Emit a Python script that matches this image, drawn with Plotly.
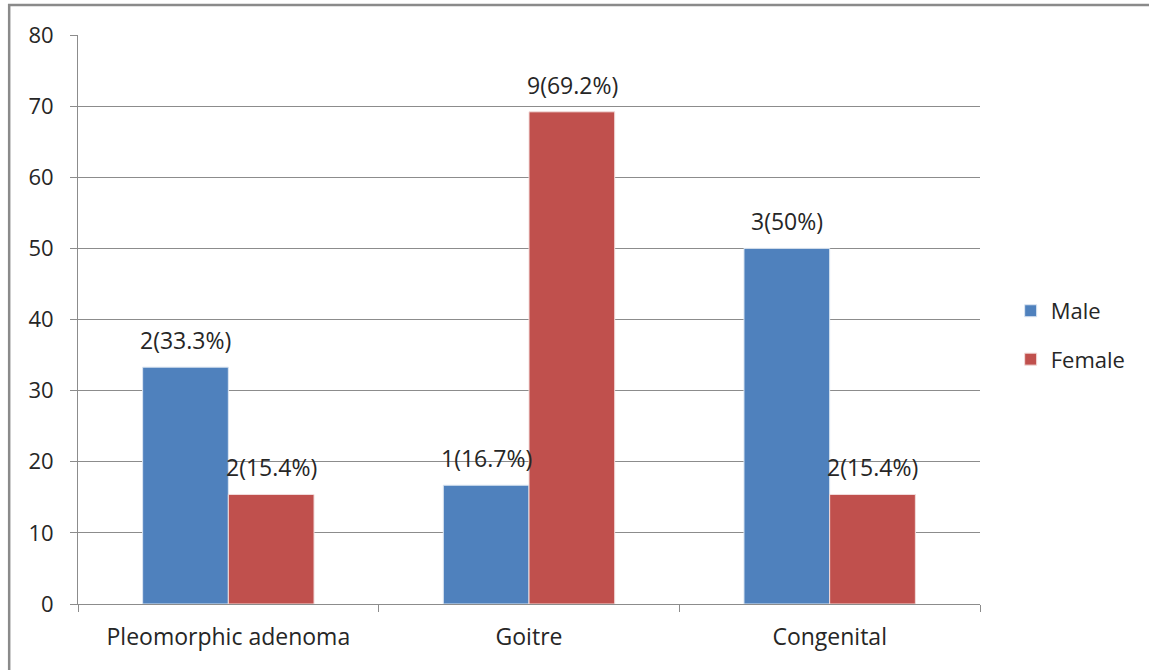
import plotly.graph_objects as go

categories = ["Pleomorphic adenoma", "Goitre", "Congenital"]
male_pct = [33.3, 16.7, 50.0]
female_pct = [15.4, 69.2, 15.4]
male_counts = [2, 1, 3]
female_counts = [2, 9, 2]

BLUE = "#4F81BD"
RED = "#C0504D"
GRID = "#8C8C8C"
FONT = "Open Sans"
TEXT = "#262626"

fig = go.Figure()
fig.add_trace(go.Bar(
    x=categories, y=male_pct, name="Male", showlegend=True,
    marker=dict(color=BLUE, line=dict(color="#DCE6F2", width=1)),
    legend="legend",
))
fig.add_trace(go.Bar(
    x=categories, y=female_pct, name="Female", showlegend=True,
    marker=dict(color=RED, line=dict(color="#F2DCDB", width=1)),
    legend="legend2",
))

# value labels above each bar: "count(percent%)"
def fmt(v):
    return f"{v:g}"

label_font = dict(family=FONT, size=23, color=TEXT)
for cat, v, n in zip(categories, male_pct, male_counts):
    fig.add_annotation(x=cat, y=v, text=f"{n}({fmt(v)}%)", showarrow=False,
                       xshift=-43, yshift=27, font=label_font)
for cat, v, n in zip(categories, female_pct, female_counts):
    fig.add_annotation(x=cat, y=v, text=f"{n}({fmt(v)}%)", showarrow=False,
                       xshift=43, yshift=27, font=label_font)

# outer chart border (top and left edges visible)
fig.add_shape(type="rect", xref="paper", yref="paper",
              x0=-0.0763, x1=1.2, y0=-0.2, y1=1.0527,
              line=dict(color="#8A8A8A", width=2.5), layer="below")

legend_font = dict(family=FONT, size=22, color=TEXT)
fig.update_layout(
    width=1149, height=670,
    margin=dict(l=78, r=169, t=35, b=66),
    paper_bgcolor="white", plot_bgcolor="white",
    showlegend=True,
    barmode="group", bargap=0.43, bargroupgap=0,
    font=dict(family=FONT, size=22, color=TEXT),
    legend=dict(x=1.034, y=0.515, xanchor="left", yanchor="middle",
                font=legend_font, bgcolor="rgba(0,0,0,0)", itemwidth=30),
    legend2=dict(x=1.034, y=0.43, xanchor="left", yanchor="middle",
                 font=legend_font, bgcolor="rgba(0,0,0,0)", itemwidth=30),
    xaxis=dict(
        showgrid=False, showline=True, linecolor=GRID, linewidth=1,
        ticks="outside", ticklen=7, tickcolor=GRID, tickson="boundaries",
        tickfont=dict(family=FONT, size=23, color=TEXT), ticklabelstandoff=12,
    ),
    yaxis=dict(
        range=[0, 80], dtick=10, showgrid=True, gridcolor=GRID, gridwidth=1,
        showline=True, linecolor=GRID, linewidth=1,
        ticks="outside", ticklen=7, tickcolor=GRID, zeroline=False,
        tickfont=dict(family=FONT, size=22, color=TEXT), ticklabelstandoff=12,
    ),
)

fig.write_html("out.html")
